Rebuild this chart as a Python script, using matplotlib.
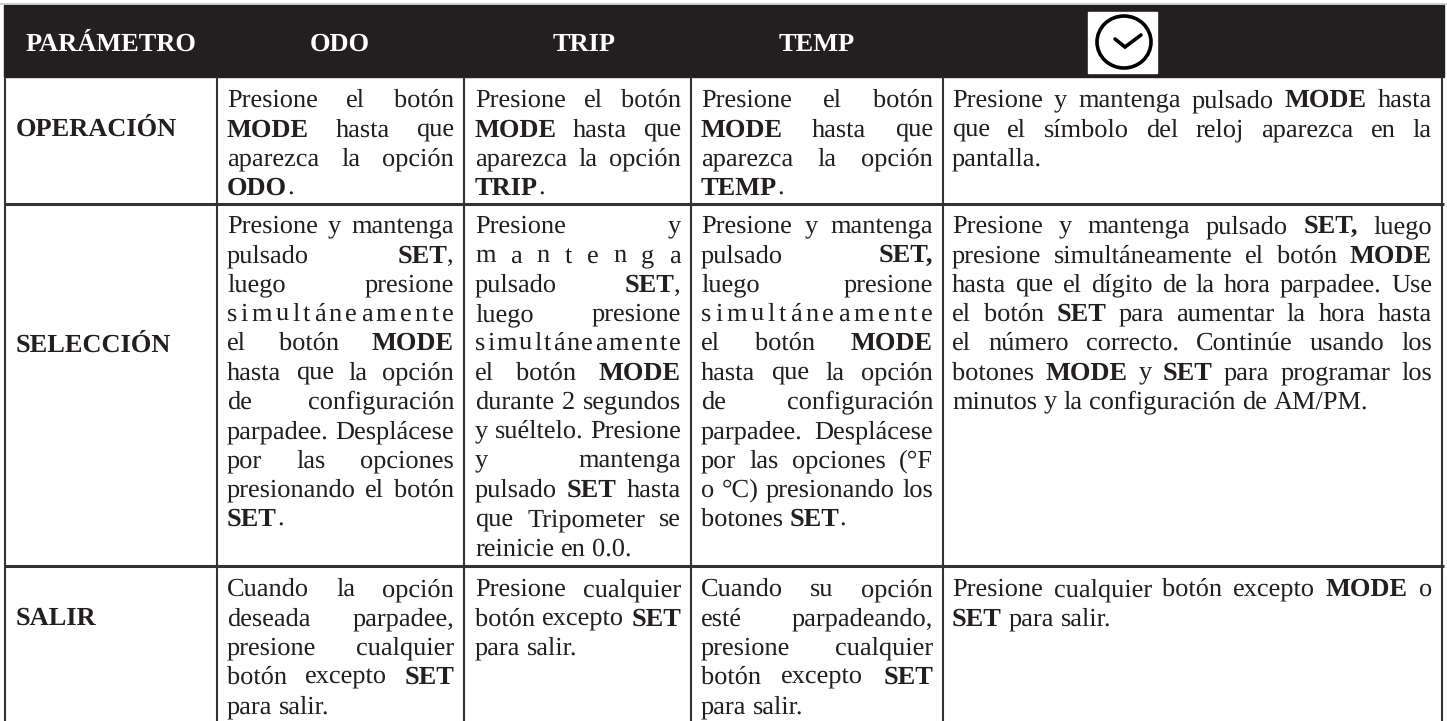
import matplotlib
matplotlib.use("Agg")
import matplotlib.pyplot as plt
from matplotlib.font_manager import FontProperties
from matplotlib.patches import Ellipse, Rectangle

plt.rcParams['font.family'] = ['Liberation Serif', 'DejaVu Serif']
plt.rcParams['text.hinting'] = 'no_hinting'

# text, **x** marks bold
headers = ["PARÁMETRO", "ODO", "TRIP", "TEMP"]
row_labels = ["OPERACIÓN", "SELECCIÓN", "SALIR"]

operacion = [
    ["Presione el botón", "**MODE** hasta que", "aparezca la opción", "**ODO**."],
    ["Presione el botón", "**MODE** hasta que", "aparezca la opción", "**TRIP**."],
    ["Presione el botón", "**MODE** hasta que", "aparezca la opción", "**TEMP**."],
    ["Presione y mantenga pulsado **MODE** hasta",
     "que el símbolo del reloj aparezca en la", "pantalla."],
]
seleccion = [
    ["Presione y mantenga", "pulsado **SET**,", "luego presione", "simultáneamente",
     "el botón **MODE**", "hasta que la opción", "de configuración",
     "parpadee. Desplácese", "por las opciones", "presionando el botón", "**SET**."],
    ["Presione y", "mantenga", "pulsado **SET**,", "luego presione", "simultáneamente",
     "el botón **MODE**", "durante 2 segundos", "y suéltelo. Presione", "y mantenga",
     "pulsado **SET** hasta", "que Tripometer se", "reinicie en 0.0."],
    ["Presione y mantenga", "pulsado **SET,**", "luego presione", "simultáneamente",
     "el botón **MODE**", "hasta que la opción", "de configuración",
     "parpadee. Desplácese", "por las opciones (°F", "o °C) presionando los", "botones **SET**."],
    ["Presione y mantenga pulsado **SET,** luego",
     "presione simultáneamente el botón **MODE**",
     "hasta que el dígito de la hora parpadee. Use",
     "el botón **SET** para aumentar la hora hasta",
     "el número correcto. Continúe usando los",
     "botones **MODE** y **SET** para programar los",
     "minutos y la configuración de AM/PM."],
]
salir = [
    ["Cuando la opción", "deseada parpadee,", "presione cualquier", "botón excepto **SET**", "para salir."],
    ["Presione cualquier", "botón excepto **SET**", "para salir."],
    ["Cuando su opción", "esté parpadeando,", "presione cualquier", "botón excepto **SET**", "para salir."],
    ["Presione cualquier botón excepto **MODE** o", "**SET** para salir."],
]
rows = [operacion, seleccion, salir]

# layout in image pixels
W, H = 1447, 721
col_lines = [5, 217, 464, 691, 943, 1442]
row_lines = [77, 204, 566, 721]
text_left = [227, 475, 701, 952]
text_right = [454, 681, 933, 1432]
first_base = [107, 233, 596]
label_base = [136, 352, 625]
pitch = 29.3
header_x = [111, 340, 584, 817]
header_base = 51
font_px = 26.4
font_pt = font_px * 72 / 100
ink = "#231f20"

fig = plt.figure(figsize=(W / 100, H / 100), dpi=100)
ax = fig.add_axes([0, 0, 1, 1])
ax.set_xlim(0, W)
ax.set_ylim(H, 0)
ax.axis("off")

renderer = fig.canvas.get_renderer()
regular = FontProperties(family="Liberation Serif", size=font_pt)
bold = FontProperties(family="Liberation Serif", size=font_pt, weight="bold")


def width(s, is_bold):
    w, _, _ = renderer.get_text_width_height_descent(s, bold if is_bold else regular, False)
    return w


def split_line(line):
    # list of words, each word a list of (text, is_bold)
    words = []
    parts = line.split("**")
    cur = []
    for i, part in enumerate(parts):
        pieces = part.split(" ")
        for j, p in enumerate(pieces):
            if j > 0:
                words.append(cur)
                cur = []
            if p:
                cur.append((p, i % 2 == 1))
    words.append(cur)
    return [w for w in words if w]


def draw_line(line, left, right, y, justify):
    words = split_line(line)
    # one word alone in a justified line: spread its letters
    if justify and len(words) == 1:
        words = [[(c, b)] for s, b in words[0] for c in s]
    widths = [sum(width(s, b) for s, b in w) for w in words]
    if justify and len(words) > 1:
        gap = (right - left - sum(widths)) / (len(words) - 1)
    else:
        gap = width("n", False) / 2
    x = left
    for w, ww in zip(words, widths):
        px = x
        for s, b in w:
            ax.text(px, y, s, fontsize=font_pt, color=ink, va="baseline", ha="left",
                    fontweight="bold" if b else "normal")
            px += width(s, b)
        x += ww + gap


# header band
ax.plot([0, W], [4, 4], color="#c4c4c4", lw=1.2)
ax.add_patch(Rectangle((4, 5), 1440, 72, color=ink, zorder=1))
for x, h in zip(header_x, headers):
    ax.text(x, header_base, h, color="white", fontsize=font_pt, fontweight="bold",
            ha="center", va="baseline")

# clock icon
ax.add_patch(Rectangle((1088, 12), 69, 61, color="white", zorder=2))
ax.add_patch(Ellipse((1124, 42), 54, 52, fill=False, ec="black", lw=2.6, zorder=3))
ax.plot([1115, 1125, 1141], [39, 47, 35], color="black", lw=2.6, zorder=3,
        solid_capstyle="round", solid_joinstyle="miter")

# grid
for x in col_lines:
    ax.plot([x, x], [77, H], color="#333333", lw=1.5, solid_capstyle="butt")
for y in row_lines[1:-1]:
    ax.plot([4, 1444], [y, y], color="#333333", lw=2.2, solid_capstyle="butt")

# cells
for r, cells in enumerate(rows):
    ax.text(16, label_base[r], row_labels[r], color=ink, fontsize=font_pt, fontweight="bold",
            ha="left", va="baseline")
    for c, lines in enumerate(cells):
        for i, line in enumerate(lines):
            y = first_base[r] + i * pitch
            draw_line(line, text_left[c], text_right[c], y, i < len(lines) - 1)

fig.savefig("out.png", dpi=100)
